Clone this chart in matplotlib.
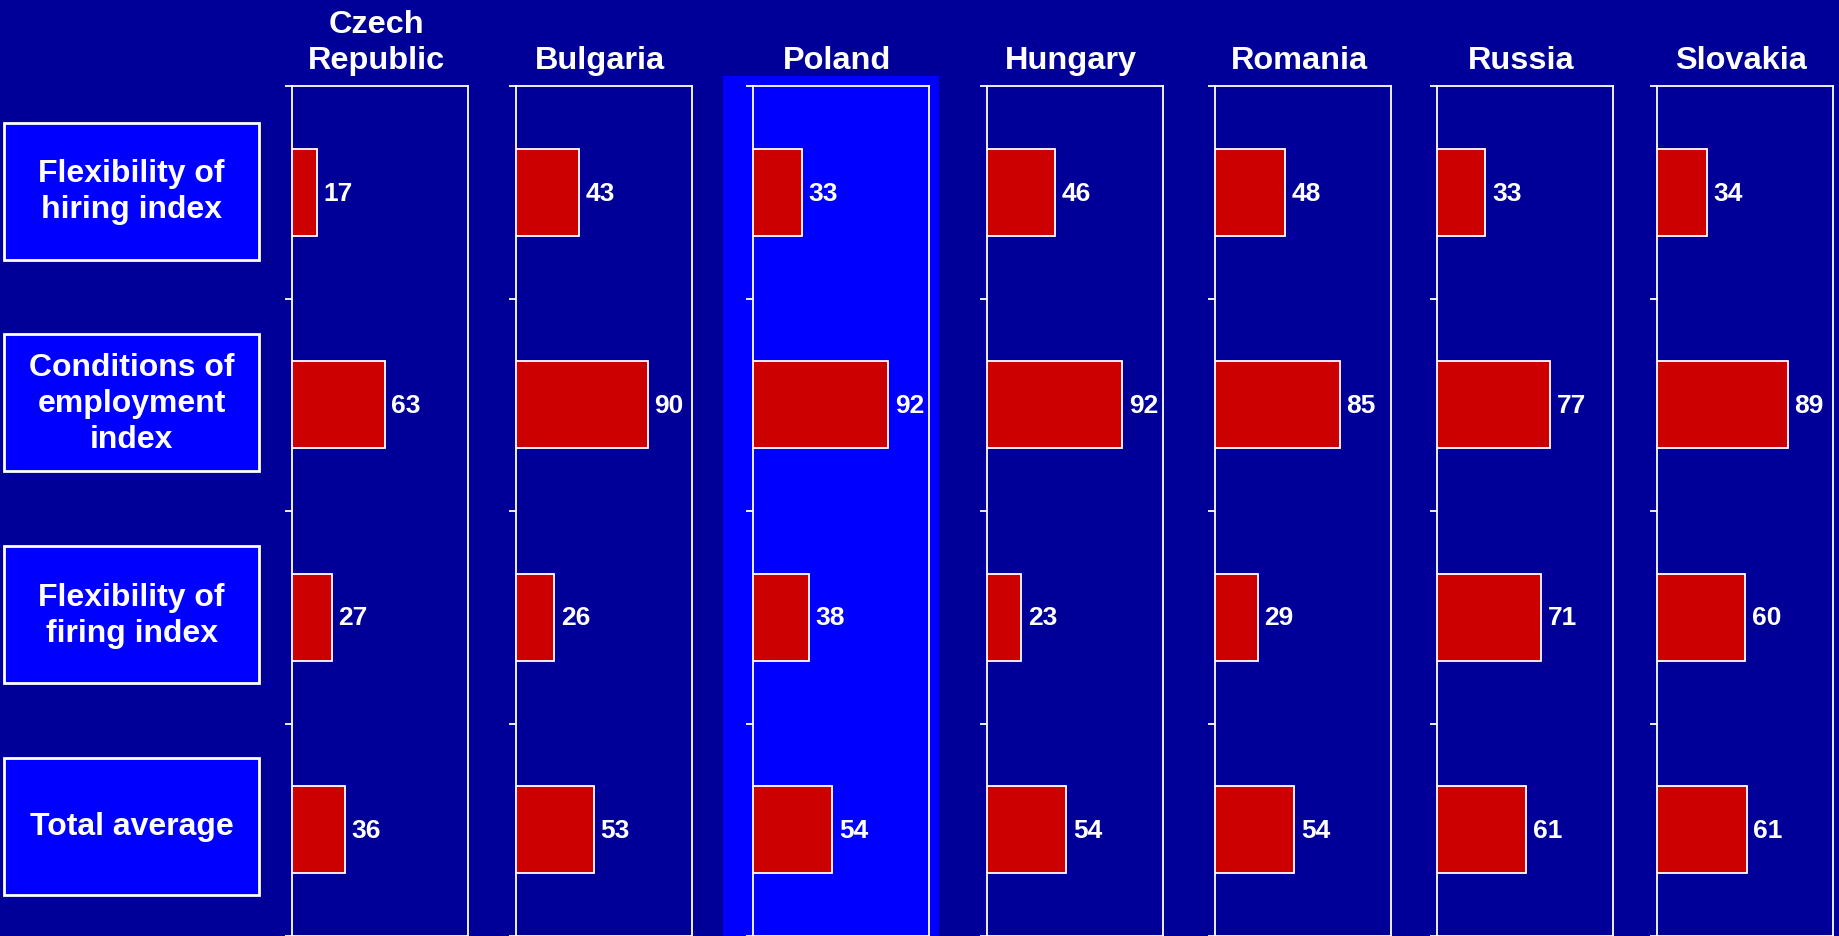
import matplotlib.pyplot as plt
from matplotlib.patches import Rectangle

countries = ["Czech\nRepublic", "Bulgaria", "Poland", "Hungary", "Romania", "Russia", "Slovakia"]
indexes = ["Flexibility of\nhiring index", "Conditions of\nemployment\nindex",
           "Flexibility of\nfiring index", "Total average"]
hiring = [17, 43, 33, 46, 48, 33, 34]
conditions = [63, 90, 92, 92, 85, 77, 89]
firing = [27, 26, 38, 23, 29, 71, 60]
total = [36, 53, 54, 54, 54, 61, 61]
highlight = "Poland"

navy = "#000099"
blue = "#0000ff"
red = "#cc0000"

W, H = 1840, 937
plt.rcParams['font.family'] = ['Liberation Sans', 'DejaVu Sans']
fig = plt.figure(figsize=(W / 100, H / 100), dpi=100, facecolor=navy)

# pixel layout of the panels (left edges), all panels the same width
lefts = [292.3, 516, 753.3, 987.3, 1215, 1437, 1657.3]
panel_w = 176
top = 87.3
band = (H - top) / 4

for i, name in enumerate(countries):
    left = lefts[i]
    if name == highlight:
        fig.patches.append(Rectangle((723.3 / W, 0), (939 - 723.3) / W, 1 - 76.7 / H,
                                     transform=fig.transFigure, facecolor=blue,
                                     edgecolor="none", zorder=-1))
    ax = fig.add_axes([left / W, 0, panel_w / W, 1 - top / H])
    ax.set_facecolor("none")
    vals = [hiring[i], conditions[i], firing[i], total[i]]
    ypos = [0.5, 1.5, 2.5, 3.5]
    ax.barh(ypos, vals, height=0.41, color=red, edgecolor="white", linewidth=1.3, zorder=3)
    for y, v in zip(ypos, vals):
        ax.text(v + 4.5, y, str(v), color="white", fontsize=19, fontweight="bold",
                family=['Liberation Sans Narrow', 'Liberation Sans'], va="center", ha="left")
    ax.set_xlim(0, 120)
    ax.set_ylim(4, 0)
    ax.set_xticks([])
    ax.set_yticks([0, 1, 2, 3, 4])
    ax.set_yticklabels([])
    ax.tick_params(axis="y", direction="out", length=5, width=1.3, color="white")
    for s in ax.spines.values():
        s.set_color("white")
        s.set_linewidth(1.3)
    fig.text((left + panel_w / 2 - 4) / W, 1 - 76.3 / H, name, color="white",
             fontsize=23.4, fontweight="bold", ha="center", va="bottom",
             multialignment="center", linespacing=1.27)

# category boxes on the left
for k, label in enumerate(indexes):
    cy = top + band * (k + 0.5) - 1.5 - 0.6 * k
    bh = 137
    fig.patches.append(Rectangle((4 / W, 1 - (cy + bh / 2) / H), (259.3 - 4) / W, bh / H,
                                 transform=fig.transFigure, facecolor=blue,
                                 edgecolor="white", linewidth=2, zorder=1))
    fig.text(131.5 / W, 1 - cy / H, label, color="white", fontsize=23,
             fontweight="bold", ha="center", va="center", linespacing=1.27, zorder=2)

fig.savefig("out.png", dpi=100, facecolor=navy)
